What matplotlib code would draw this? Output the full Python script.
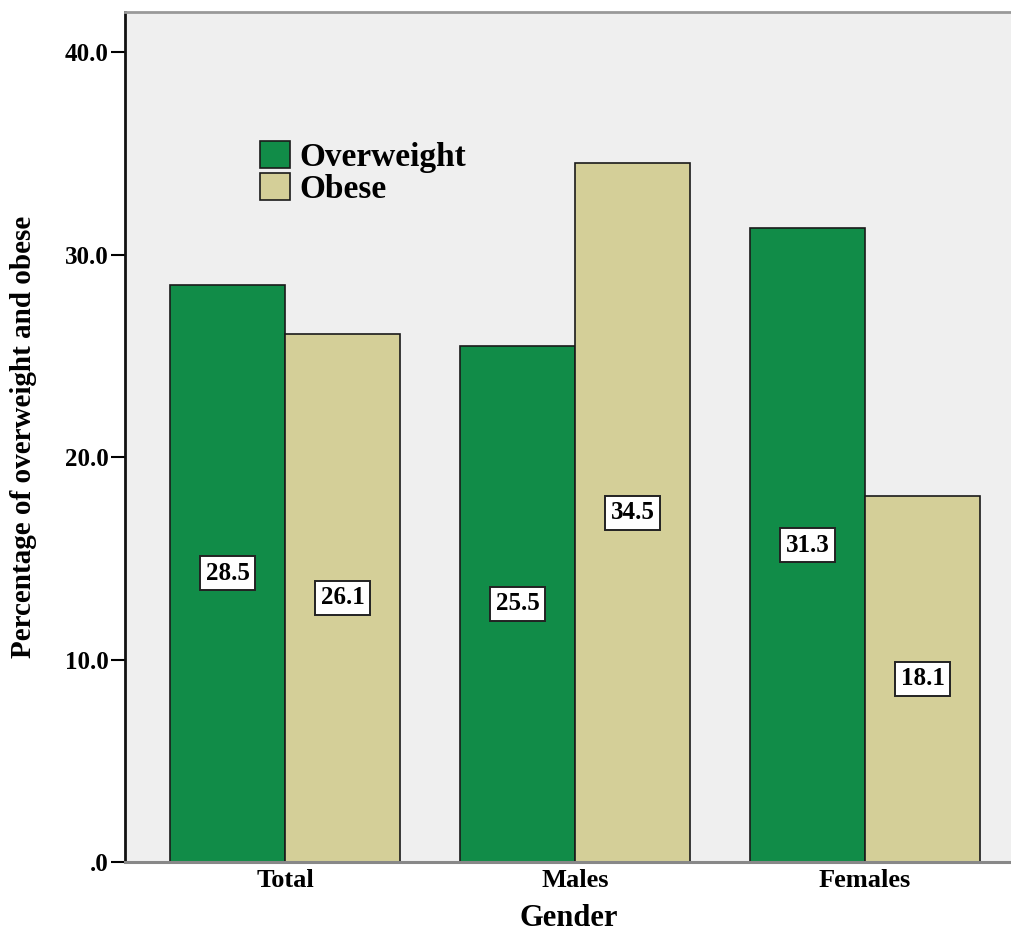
import matplotlib
matplotlib.use("Agg")
import matplotlib.pyplot as plt
import numpy as np
from matplotlib.patches import Patch

groups = ["Total", "Males", "Females"]
overweight = [28.5, 25.5, 31.3]
obese = [26.1, 34.5, 18.1]
series_names = ["Overweight", "Obese"]
ytick_vals = [0, 10, 20, 30, 40]
ytick_labels = [".0", "10.0", "20.0", "30.0", "40.0"]

green = "#118C48"
tan = "#D4CF98"
bg = "#EFEFEF"
serif = ["Liberation Serif", "DejaVu Serif"]

fig = plt.figure(figsize=(10.12, 9.35), dpi=100)
ax = fig.add_axes([125 / 1012, 73 / 935, 887 / 1012, 850 / 935])
ax.set_facecolor(bg)

x = np.arange(len(groups))
w = 0.397
ax.bar(x - w / 2, overweight, w, color=green, edgecolor="#1a1a1a", linewidth=1.2, zorder=2)
ax.bar(x + w / 2, obese, w, color=tan, edgecolor="#1a1a1a", linewidth=1.2, zorder=2)

box = dict(boxstyle="square,pad=0.22", facecolor="white", edgecolor="#222222", linewidth=1.4)
for xs, vals in ((x - w / 2, overweight), (x + w / 2, obese)):
    for xi, v in zip(xs, vals):
        ax.text(xi, v / 2, f"{v:.1f}", ha="center", va="center", fontsize=18,
                fontweight="bold", family=serif, bbox=box, zorder=3)

ax.set_xlim(-0.552, 2.507)
ax.set_ylim(0, 41.98)
ax.set_yticks(ytick_vals)
ax.set_yticklabels(ytick_labels, fontsize=18, fontweight="bold", family=serif)
ax.set_xticks(x)
ax.set_xticklabels(groups, fontsize=19, fontweight="bold", family=serif)
ax.tick_params(axis="y", direction="out", length=10, width=1.5, pad=2)
ax.tick_params(axis="x", length=0, pad=5)

ax.spines["left"].set_color("#111111")
ax.spines["left"].set_linewidth(2)
ax.spines["bottom"].set_color("#888888")
ax.spines["bottom"].set_linewidth(2.2)
ax.spines["top"].set_color("#999999")
ax.spines["top"].set_linewidth(2)
ax.spines["right"].set_visible(False)

ax.set_ylabel("Percentage of overweight and obese", fontsize=21, fontweight="bold",
              family=serif)
ax.yaxis.set_label_coords(-0.099, 0.5)
ax.set_xlabel("Gender", fontsize=22, fontweight="bold", family=serif)
ax.xaxis.set_label_coords(0.5, -0.049)

handles = [Patch(facecolor=green, edgecolor="#1a1a1a", linewidth=1.2),
           Patch(facecolor=tan, edgecolor="#1a1a1a", linewidth=1.2)]
ax.legend(handles, series_names, loc="upper left", bbox_to_anchor=(0.152, 0.848),
          frameon=False, prop={"family": serif, "weight": "bold", "size": 24},
          handlelength=0.9, handleheight=0.85, handletextpad=0.3, labelspacing=0.0,
          borderpad=0, borderaxespad=0)

fig.savefig("out.png", dpi=100, facecolor="white")
